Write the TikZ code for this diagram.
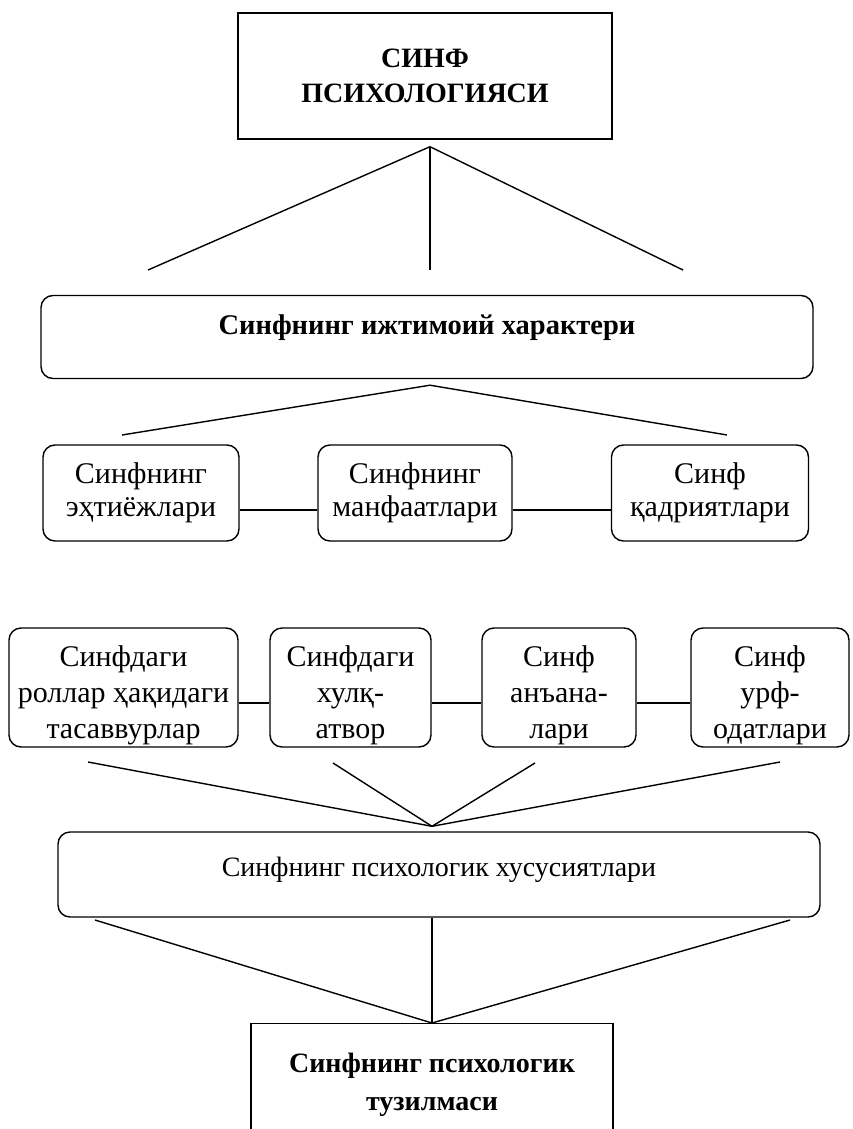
\documentclass[tikz,border=0pt]{standalone}
\usepackage{fontspec}
\setmainfont{Liberation Serif}
\usetikzlibrary{positioning}

\begin{document}
\begin{tikzpicture}[x=1pt, y=-1pt,
        box/.style={draw, line width=1.4pt, rounded corners=12pt, align=center, inner sep=0pt, font=\fontsize{30}{33}\selectfont},
        tallbox/.style={box, minimum height=119pt, text height=109pt, font=\fontsize{30}{36}\selectfont},
        squarebox/.style={box, rounded corners=0pt, font=\fontsize{28}{35}\selectfont\bfseries},
        link/.style={line width=1.4pt}
    ]
        \useasboundingbox (0,0) rectangle (853,1129);

        % Nodes
        \node[squarebox, minimum width=374pt, minimum height=126pt] (title) at (425,76) {СИНФ\\ ПСИХОЛОГИЯСИ};
        \node[box, font=\fontsize{28.5}{33}\selectfont\bfseries, minimum width=772pt, minimum height=83pt, text depth=25pt] (social) at (427,337) {Синфнинг ижтимоий характери};

        \node[box, minimum width=196pt, minimum height=96pt] (needs) at (141,493) {Синфнинг\\ эҳтиёжлари};
        \node[box, minimum width=194pt, minimum height=96pt] (interests) at (415,493) {Синфнинг\\ манфаатлари};
        \node[box, minimum width=197pt, minimum height=96pt] (values) at (710,493) {Синф\\ қадриятлари};

        \node[tallbox, minimum width=229pt] (roles) at (123.5,687.5) {Синфдаги\\ роллар ҳақидаги\\ тасаввурлар};
        \node[tallbox, minimum width=161pt] (conduct) at (350.5,687.5) {Синфдаги\\ хулқ-\\ атвор};
        \node[tallbox, minimum width=154pt] (traditions) at (559,687.5) {Синф\\ анъана-\\ лари};
        \node[tallbox, minimum width=158pt] (customs) at (770,687.5) {Синф\\ урф-\\ одатлари};

        \node[box, font=\fontsize{28}{33}\selectfont, minimum width=762pt, minimum height=85pt, text depth=16pt] (traits) at (439,874.5) {Синфнинг психологик хусусиятлари};
        \node[squarebox, anchor=north, minimum width=362pt, inner ysep=29pt, text depth=80pt, font=\fontsize{28}{38}\selectfont\bfseries] (structure) at (432,1023) {Синфнинг психологик\\ тузилмаси};

        % Free line ends
        \coordinate (t1) at (148,270);
        \coordinate (t2) at (430,270);
        \coordinate (t3) at (683,270);
        \coordinate (s1) at (122,435);
        \coordinate (s2) at (727,435);
        \coordinate (r1) at (88,762);
        \coordinate (r2) at (333,763);
        \coordinate (r3) at (535,763);
        \coordinate (r4) at (780,762);
        \coordinate (b1) at (95,920);
        \coordinate (b2) at (790,920);

        % Lines
        \draw[link] (t1) -- ([xshift=5pt, yshift=-7pt]title.south) -- (t3);
        \draw[link] ([xshift=5pt, yshift=-7pt]title.south) -- (t2);
        \draw[link] (s1) -- ([xshift=3pt, yshift=-6pt]social.south) -- (s2);
        \draw[link] ([yshift=-17pt]needs.east) -- ([yshift=-17pt]interests.west);
        \draw[link] ([yshift=-17pt]interests.east) -- ([yshift=-17pt]values.west);
        \draw[link] ([yshift=-15.5pt]roles.east) -- ([yshift=-15.5pt]conduct.west);
        \draw[link] ([yshift=-15.5pt]conduct.east) -- ([yshift=-15.5pt]traditions.west);
        \draw[link] ([yshift=-15.5pt]traditions.east) -- ([yshift=-15.5pt]customs.west);
        \foreach \p in {r1, r2, r3, r4}
            \draw[link] (\p) -- ([xshift=-7pt, yshift=5pt]traits.north);
        \draw[link] (b1) -- (structure.north) -- (b2);
        \draw[link] ([xshift=-7pt]traits.south) -- (structure.north);
    \end{tikzpicture}
\end{document}
